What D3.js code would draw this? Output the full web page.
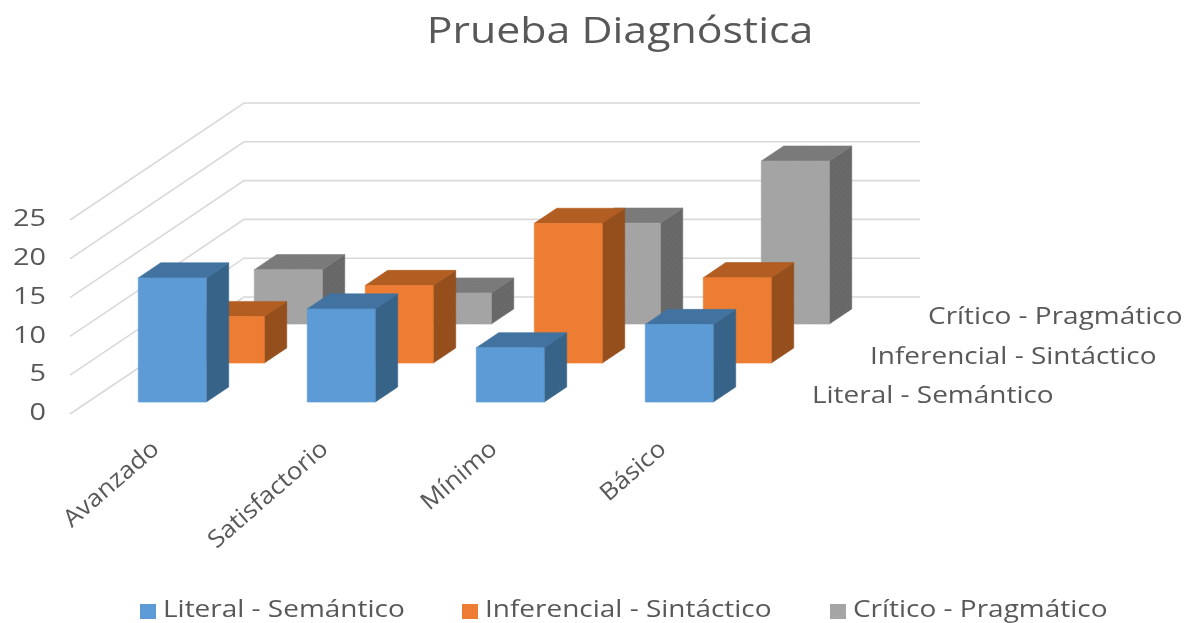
<!DOCTYPE html>
<html>
<head>
<meta charset="utf-8">
<script src="https://cdn.jsdelivr.net/npm/d3@7"></script>
<style>
  html, body { margin: 0; padding: 0; background: #fff; }
  text { font-family: "Open Sans", sans-serif; fill: #595959; }
</style>
</head>
<body>
<div id="chart"></div>
<script>
const categories = ["Avanzado", "Satisfactorio", "Mínimo", "Básico"];
const seriesNames = ["Literal - Semántico", "Inferencial - Sintáctico", "Crítico - Pragmático"];
const literal = [16, 12, 7, 10];
const inferencial = [6, 10, 18, 11];
const critico = [7, 4, 13, 21];
const yTicks = [0, 5, 10, 15, 20, 25];
const seriesValues = [literal, inferencial, critico];
const seriesColors = ["#5b9bd5", "#ed7d31", "#a5a5a5"];
const topColors = ["#4273a0", "#b25d22", "#7b7b7b"];
const sideColors = ["#386389", "#954f1d", "#696969"];

const width = 1184;
const height = 623;

// floor of the 3d box: front left corner, and how far the depth axis runs
const floorLeft = 70;
const floorRight = 746;
const depthX = 174;
const depthY = 117;

const svg = d3.select("#chart")
  .append("svg")
  .attr("width", width)
  .attr("height", height);

const x = d3.scaleBand()
  .domain(categories)
  .range([floorLeft, floorRight])
  .paddingInner(0.5976)
  .paddingOuter(0.2988);

const y = d3.scaleLinear().domain([0, 25]).range([414, 220]);

const depth = d3.scaleBand()
  .domain(seriesNames)
  .range([0, 1])
  .paddingInner(0.613)
  .paddingOuter(0.306);

// front x, depth 0..1, value -> screen point
const project = (px, t, v) => [px + t * depthX, y(v) - t * depthY];
const poly = pts => pts.map(p => p.join(",")).join(" ");

// the reference text is wider than the font, so stretch it
const stretch = (sel, k) => sel.each(function () {
  d3.select(this)
    .attr("textLength", this.getComputedTextLength() * k)
    .attr("lengthAdjust", "spacingAndGlyphs");
});

// speckle on the grey bars
const defs = svg.append("defs");
const speckle = (id, base, dot) => {
  const p = defs.append("pattern").attr("id", id)
    .attr("width", 3).attr("height", 3).attr("patternUnits", "userSpaceOnUse");
  p.append("rect").attr("width", 3).attr("height", 3).attr("fill", base);
  p.append("rect").attr("width", 1.5).attr("height", 1.5).attr("fill", dot);
  p.append("rect").attr("x", 1.5).attr("y", 1.5).attr("width", 1.5).attr("height", 1.5).attr("fill", dot);
};
speckle("g-front", "#a9a9a9", "#9f9f9f");
speckle("g-top", "#7f7f7f", "#757575");
speckle("g-side", "#6e6e6e", "#626262");

defs.append("filter").attr("id", "soft")
  .append("feGaussianBlur").attr("stdDeviation", 0.45);

const plot = svg.append("g").attr("filter", "url(#soft)");

// Gridlines on side wall and back wall
plot.selectAll("polyline.grid")
  .data(yTicks)
  .enter()
  .append("polyline")
  .attr("class", "grid")
  .attr("fill", "none")
  .attr("stroke", "#d9d9d9")
  .attr("stroke-width", 1.6)
  .attr("points", v => poly([
    project(floorLeft, 0, v),
    project(floorLeft, 1, v),
    project(floorRight, 1, v)
  ]));

// Bars, back series first so the front ones cover them
d3.range(seriesNames.length - 1, -1, -1).forEach(s => {
  const t0 = depth(seriesNames[s]);
  const t1 = t0 + depth.bandwidth();
  const isGrey = s === 2;
  const bars = plot.append("g").selectAll("g")
    .data(seriesValues[s])
    .enter()
    .append("g");

  const l = i => x(categories[i]);
  const r = i => x(categories[i]) + x.bandwidth();
  const side = isGrey ? "url(#g-side)" : sideColors[s];
  const top = isGrey ? "url(#g-top)" : topColors[s];
  const front = isGrey ? "url(#g-front)" : seriesColors[s];

  bars.append("polygon")
    .attr("fill", side)
    .attr("stroke", side)
    .attr("stroke-width", 0.6)
    .attr("points", (d, i) => poly([
      project(r(i), t0, 0), project(r(i), t1, 0),
      project(r(i), t1, d), project(r(i), t0, d)
    ]));

  bars.append("polygon")
    .attr("fill", top)
    .attr("stroke", top)
    .attr("stroke-width", 0.6)
    .attr("points", (d, i) => poly([
      project(l(i), t0, d), project(r(i), t0, d),
      project(r(i), t1, d), project(l(i), t1, d)
    ]));

  bars.append("polygon")
    .attr("fill", front)
    .attr("stroke", front)
    .attr("stroke-width", 0.6)
    .attr("points", (d, i) => poly([
      project(l(i), t0, 0), project(r(i), t0, 0),
      project(r(i), t0, d), project(l(i), t0, d)
    ]));
});

const labels = svg.append("g").attr("filter", "url(#soft)");

// Value axis
const yAxis = d3.axisLeft(y).tickValues(yTicks).tickSize(0).tickPadding(0);
labels.append("g")
  .attr("transform", "translate(46,-2)")
  .call(yAxis)
  .call(g => g.select(".domain").remove())
  .selectAll("text")
  .style("font-family", '"Open Sans", sans-serif')
  .style("font-size", "24px")
  .style("fill", "#595959")
  .call(stretch, 1.2);

// Category labels
labels.selectAll("text.cat")
  .data(categories)
  .enter()
  .append("text")
  .attr("class", "cat")
  .attr("text-anchor", "end")
  .attr("font-size", 24)
  .attr("transform", d => `translate(${x(d) + x.bandwidth() / 2 + 6},451) rotate(-41)`)
  .text(d => d)
  .call(stretch, 1.08);

// Series names along the depth axis
labels.selectAll("text.depth")
  .data(seriesNames)
  .enter()
  .append("text")
  .attr("class", "depth")
  .attr("font-size", 24)
  .attr("x", d => project(floorRight, depth(d) + depth.bandwidth() / 2, 0)[0] + 37)
  .attr("y", d => project(floorRight, depth(d) + depth.bandwidth() / 2, 0)[1] + 8)
  .text(d => d)
  .call(stretch, 1.165);

// Title
labels.append("text")
  .attr("x", 620)
  .attr("y", 43)
  .attr("text-anchor", "middle")
  .attr("font-size", 36)
  .text("Prueba Diagnóstica")
  .call(stretch, 1.19);

// Legend
const legendX = [140, 462, 830];
const legend = labels.selectAll("g.legend")
  .data(seriesNames)
  .enter()
  .append("g")
  .attr("class", "legend")
  .attr("transform", (d, i) => `translate(${legendX[i]},604)`);

legend.append("rect")
  .attr("width", 16)
  .attr("height", 15)
  .attr("fill", (d, i) => seriesColors[i]);

legend.append("text")
  .attr("x", 23)
  .attr("y", 13)
  .attr("font-size", 24)
  .text(d => d)
  .call(stretch, 1.165);
</script>
</body>
</html>
